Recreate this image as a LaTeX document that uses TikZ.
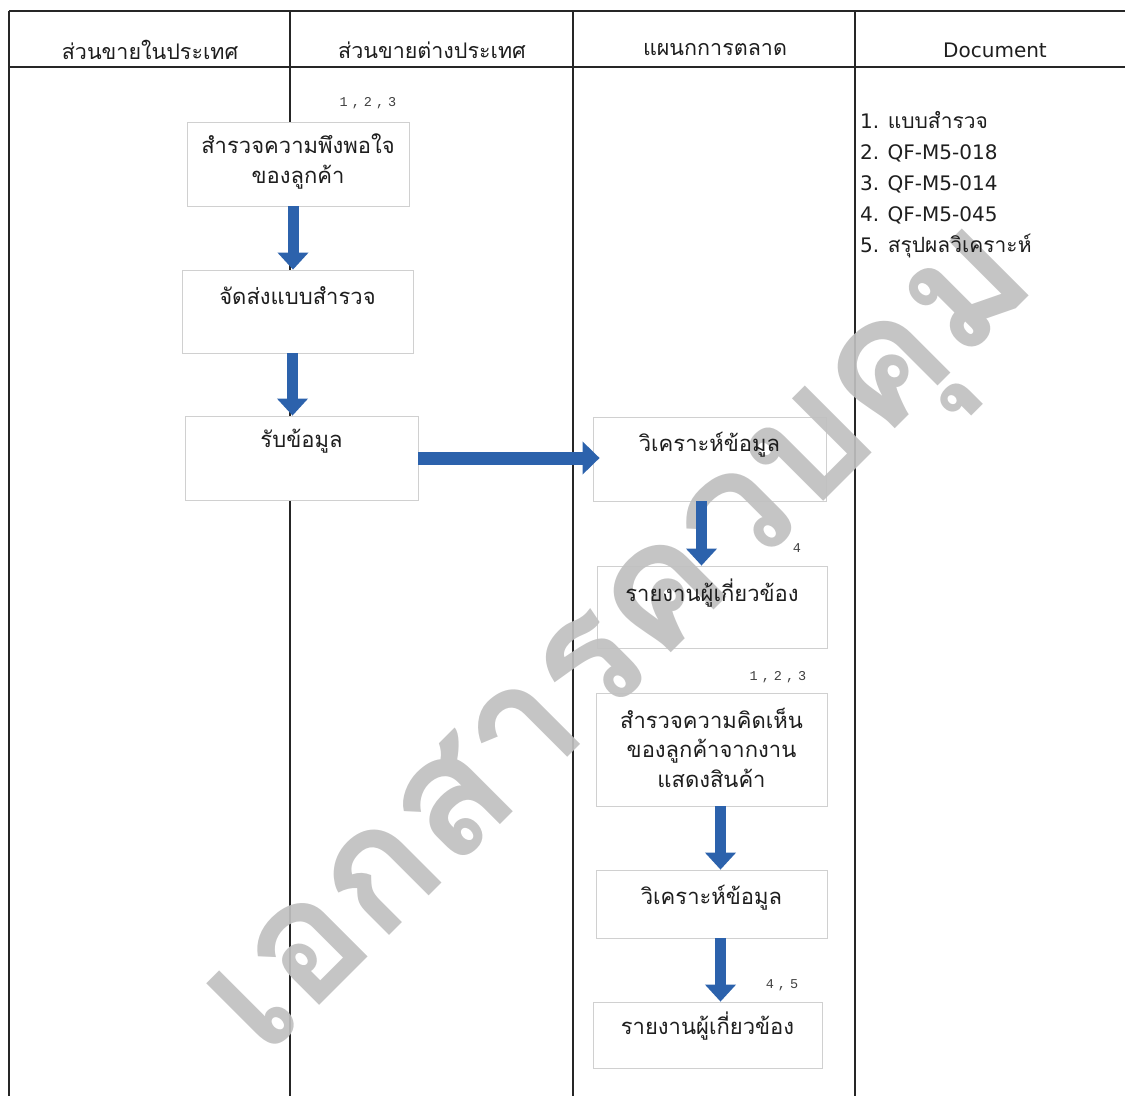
\documentclass[tikz,border=0pt]{standalone}
\usepackage{fontspec}
\setmainfont{DejaVu Sans}
\newfontfamily\thaifont[Script=Thai]{Loma}
\newfontfamily\refmono[LetterSpace=30]{Liberation Mono}
\usetikzlibrary{arrows.meta, positioning}
\definecolor{flowblue}{RGB}{44,98,172}
\definecolor{boxgray}{RGB}{208,208,208}
\definecolor{inkdark}{RGB}{30,30,30}
\definecolor{markgray}{RGB}{192,192,192}

\begin{document}
\begin{tikzpicture}[x=1pt, y=-1pt]
    % Setup the styles for the chart
        \tikzset{flow box/.style={draw=boxgray,
                                  line width=0.8pt,
                                  fill=white,
                                  inner sep=0pt},
                 box text/.style={font=\thaifont\fontsize{22}{29.5}\selectfont,
                                  text=inkdark,
                                  align=center,
                                  inner sep=0pt},
                 head text/.style={font=\thaifont\fontsize{21.5}{24}\selectfont,
                                   text=inkdark},
                 ref text/.style={font=\refmono\fontsize{13.5}{15}\selectfont,
                                  text=inkdark!85},
                 flow arrow/.style={draw=flowblue,
                                    line width=11pt,
                                    -{Triangle[length=17pt, width=30pt]}},
                 grid line/.style={draw=black!85, line width=1.1pt}}

        \useasboundingbox (0,0) rectangle (1125,1096);

        % Draw the table
        \draw[grid line] (9,11) -- (1125,11);
        \draw[grid line] (9,67) -- (1125,67);
        \draw[grid line] (9,11) -- (9,1096);
        \draw[grid line] (290,11) -- (290,1096);
        \draw[grid line] (573,11) -- (573,1096);
        \draw[grid line] (855,11) -- (855,1096);

        % Draw the column heads
        \node[head text] at (150,50)  (home)   {ส่วนขายในประเทศ};
        \node[head text] at (432,50)  (abroad) {ส่วนขายต่างประเทศ};
        \node[head text] at (715,50)  (market) {แผนกการตลาด};
        \node[font=\fontsize{20}{24}\selectfont, text=inkdark] at (995,50) (docs) {Document};

        % Draw the boxes
        \node[flow box, minimum width=222pt, minimum height=84pt]  at (298,164)    (survey)   {};
        \node[flow box, minimum width=231pt, minimum height=83pt]  at (297.5,311.5) (send)   {};
        \node[flow box, minimum width=233pt, minimum height=84pt]  at (301.5,458)  (receive)  {};
        \node[flow box, minimum width=233pt, minimum height=84pt]  at (709.5,459)  (analyse)  {};
        \node[flow box, minimum width=230pt, minimum height=82pt]  at (712,607)    (report)   {};
        \node[flow box, minimum width=231pt, minimum height=113pt] at (711.5,749.5) (fair)    {};
        \node[flow box, minimum width=231pt, minimum height=68pt]  at (711.5,904)  (analyse2) {};
        \node[flow box, minimum width=229pt, minimum height=66pt]  at (707.5,1035) (report2)  {};

        % Draw the stamp
        \node[font=\thaifont\bfseries\fontsize{170}{170}\selectfont,
              text=markgray, opacity=0.92, rotate=45] at (633,652) (stamp) {เอกสารควบคุม};

        % Put the texts in the boxes
        \node[box text, below=12pt of survey.north]   (survey text)   {สำรวจความพึงพอใจ\\ของลูกค้า};
        \node[box text, below=17pt of send.north]     (send text)     {จัดส่งแบบสำรวจ};
        \node[box text, below=13pt of receive.north]  (receive text)  {รับข้อมูล};
        \node[box text, below=15pt of analyse.north]  (analyse text)  {วิเคราะห์ข้อมูล};
        \node[box text, below=13pt of report.north]   (report text)   {รายงานผู้เกี่ยวข้อง};
        \node[box text, below=15pt of fair.north]     (fair text)     {สำรวจความคิดเห็น\\ของลูกค้าจากงาน\\แสดงสินค้า};
        \node[box text, below=15pt of analyse2.north] (analyse2 text) {วิเคราะห์ข้อมูล};
        \node[box text, below=10pt of report2.north]  (report2 text)  {รายงานผู้เกี่ยวข้อง};

        % Document numbers
        \node[ref text] at (368,103) (survey ref)  {1,2,3};
        \node[ref text] at (797,548) (report ref)  {4};
        \node[ref text] at (778,677) (fair ref)    {1,2,3};
        \node[ref text] at (782,985) (report2 ref) {4,5};

        \node[anchor=north west, align=left, inner sep=0pt, text=inkdark,
              font=\fontsize{20}{31}\selectfont] at (860,111) (doclist)
              {1. {\thaifont\fontsize{21}{31}\selectfont แบบสำรวจ}\\2. QF-M5-018\\3. QF-M5-014\\4. QF-M5-045\\5. {\thaifont\fontsize{21}{31}\selectfont สรุปผลวิเคราะห์}};

        % Connect the boxes with arrows
        \draw[flow arrow] ([xshift=-5pt]survey.south) -- ([xshift=-5pt]survey.south |- send.north);
        \draw[flow arrow] ([xshift=-5pt]send.south) -- ([xshift=-5pt]send.south |- receive.north);
        \draw[flow arrow, line width=13pt, -{Triangle[length=17pt, width=32pt]}]
            (receive.east) -- ([xshift=7pt]receive.east -| analyse.west);
        \draw[flow arrow] ([xshift=-8pt]analyse.south) -- ([xshift=-8pt]analyse.south |- report.north);
        \draw[flow arrow] ([xshift=9pt]fair.south) -- ([xshift=9pt]fair.south |- analyse2.north);
        \draw[flow arrow] ([xshift=9pt]analyse2.south) -- ([xshift=9pt]analyse2.south |- report2.north);
\end{tikzpicture}
\end{document}
